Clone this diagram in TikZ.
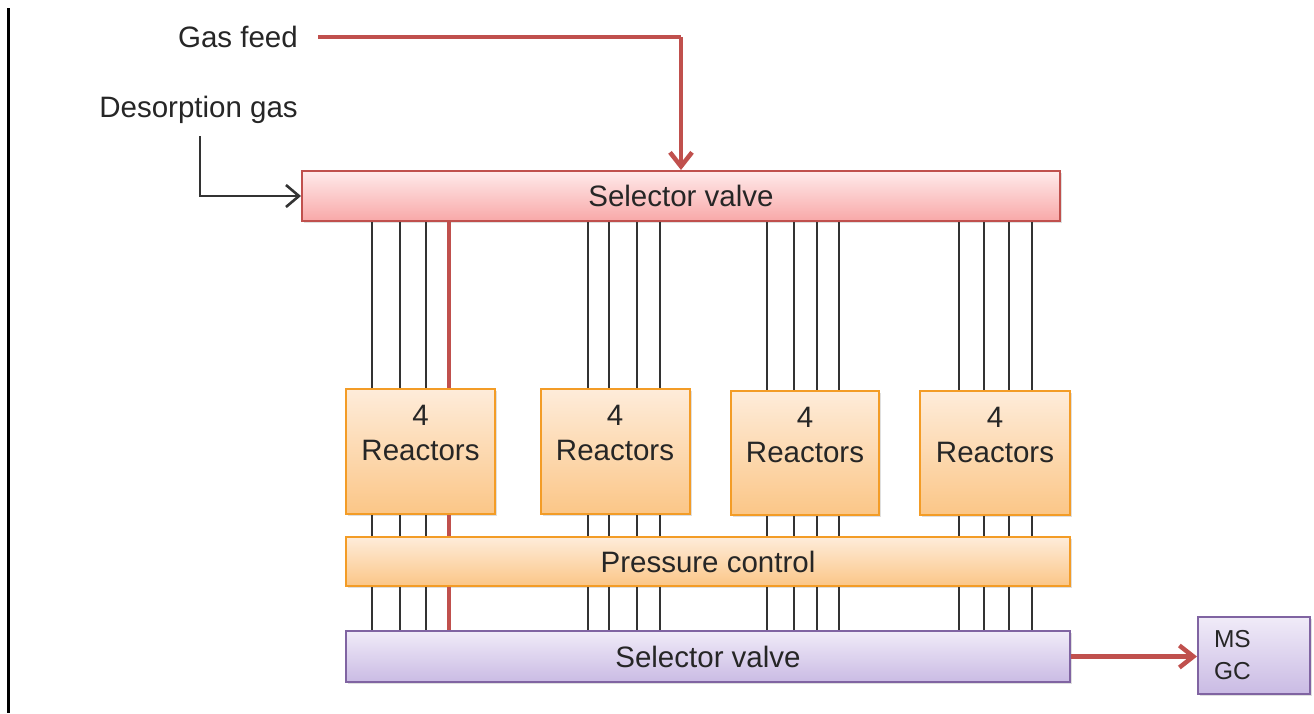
\documentclass[tikz,border=0pt]{standalone}
\usepackage{fontspec}
\setmainfont{Liberation Sans}
\usetikzlibrary{arrows.meta,shadows}
\definecolor{redln}{HTML}{C0504D}
\definecolor{txt}{HTML}{262626}
\definecolor{blk}{HTML}{333333}
\definecolor{orangeln}{HTML}{F39C26}
\definecolor{purpleln}{HTML}{8064A2}
\begin{document}
\begin{tikzpicture}[x=1pt,y=-1pt,
  every node/.style={text=txt},
  bigfont/.style={font=\fontsize{29.5}{35}\selectfont},
  boxshadow/.style={drop shadow={opacity=0.25,shadow xshift=2pt,shadow yshift=-2pt}},
  pinkbox/.style={draw=redln,line width=2pt,top color=red!8!white,bottom color={rgb,255:red,248;green,168;blue,168},boxshadow,bigfont,inner sep=0pt},
  orangebox/.style={draw=orangeln,line width=2pt,top color={rgb,255:red,254;green,236;blue,218},bottom color={rgb,255:red,251;green,198;blue,135},boxshadow,bigfont,inner sep=0pt},
  purplebox/.style={draw=purpleln,line width=2pt,top color={rgb,255:red,240;green,235;blue,248},bottom color={rgb,255:red,202;green,187;blue,228},boxshadow,bigfont,inner sep=0pt},
  reactor/.style={orangebox,align=center,minimum width=149pt,minimum height=125pt},
  thin/.style={draw=blk,line width=2.2pt},
  thick/.style={draw=redln,line width=4.5pt},
  redarrow/.style={thick,-{Straight Barb[length=14pt,width=22pt]}},
  blkarrow/.style={draw=blk,line width=2.6pt,-{Straight Barb[length=13pt,width=22pt]}},
  label/.style={bigfont,inner sep=0pt}
]
\useasboundingbox (0,0) rectangle (1314,713);
% left border line
\draw[black,line width=3pt] (8,8) -- (8,713);

% labels
\node[label,anchor=east] (gasfeed) at (298,37) {Gas feed};
\node[label,anchor=east] (desorb) at (298,110) {Desorption gas};

% boxes
\node[pinkbox,minimum width=758pt,minimum height=50pt] (sv) at (681,196) {Selector valve};
\node[reactor] (r1) at (420.5,451.5) {4\\Reactors\\[2pt]~};
\node[reactor] (r2) at (615,451.5) {4\\Reactors\\[2pt]~};
\node[reactor,minimum width=148pt,minimum height=124pt] (r3) at (805,453) {4\\Reactors\\[2pt]~};
\node[reactor,minimum width=150pt,minimum height=124pt] (r4) at (995,453) {4\\Reactors\\[2pt]~};
\node[orangebox,minimum width=724pt,minimum height=49pt] (pc) at (708,561.5) {Pressure control};
\node[purplebox,minimum width=724pt,minimum height=51pt] (sv2) at (708,656.5) {Selector valve};
\node[purplebox,minimum width=112pt,minimum height=77pt,font=\fontsize{24.5}{32}\selectfont,align=left,text width=80pt] (ms) at (1254,655.5) {MS\\GC};

% coordinates for inlet corners
\coordinate (gfcorner) at (681,37);
\coordinate (dscorner) at (200,196);
\coordinate (dsstart) at (200,136);

% inlet arrows
\draw[thick] ([xshift=20pt]gasfeed.east) -- (gfcorner);
\draw[redarrow] (gfcorner) -- (sv.north -| gfcorner);
\draw[blkarrow] (dsstart) -- (dscorner) -- (sv.west);

% lines between boxes
\foreach \x/\r in {372/r1,400/r1,426/r1,588/r2,609/r2,637/r2,660/r2,767/r3,794/r3,817/r3,839/r3,959/r4,984/r4,1009/r4,1032/r4}{
  \draw[thin] (sv.south -| \x,0) -- (\r.north -| \x,0);
  \draw[thin] (\r.south -| \x,0) -- (pc.north -| \x,0);
  \draw[thin] (pc.south -| \x,0) -- (sv2.north -| \x,0);
}
\draw[thick] (sv.south -| 449,0) -- (r1.north -| 449,0);
\draw[thick] (r1.south -| 449,0) -- (pc.north -| 449,0);
\draw[thick] (pc.south -| 449,0) -- (sv2.north -| 449,0);

% outlet
\draw[redarrow] (sv2.east) -- (ms.west |- sv2.east);
\end{tikzpicture}
\end{document}
